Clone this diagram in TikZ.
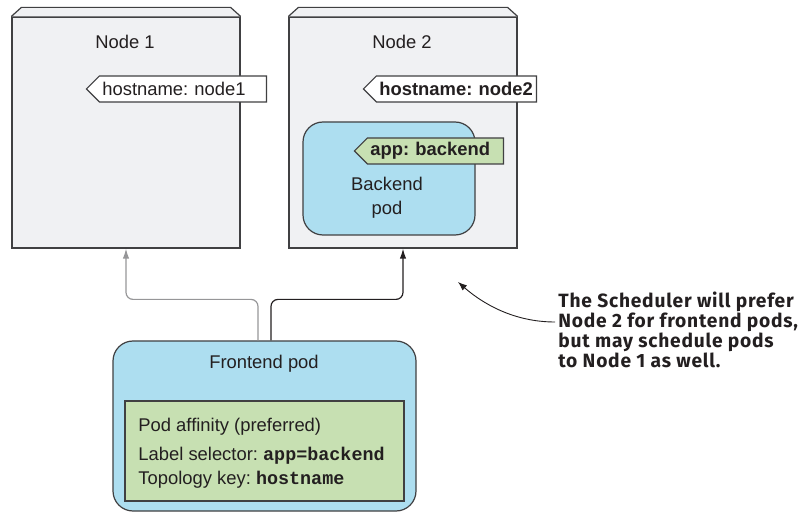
\documentclass[tikz,border=0pt]{standalone}
\usepackage{fontspec}
\setmainfont{Liberation Sans}
\setmonofont{Liberation Mono}
\newfontfamily\notefont[LetterSpace=4]{Fira Sans}
\usepackage{tikz}
\usetikzlibrary{arrows.meta,calc,shapes.symbols}
\definecolor{NodeGray}{RGB}{240,241,243}
\definecolor{PodBlue}{RGB}{173,222,240}
\definecolor{TagGreen}{RGB}{199,224,178}
\definecolor{EdgeGray}{RGB}{64,64,66}
\definecolor{LinkGray}{RGB}{150,150,152}
\definecolor{Ink}{RGB}{35,31,32}
\newcommand\diagfont{\fontsize{9.2}{12}\selectfont\frenchspacing}
\tikzset{
  machine/.style={draw=EdgeGray,fill=NodeGray,line width=.6pt,
    minimum width=114pt,minimum height=115.5pt,inner sep=0pt},
  labeltag/.style={signal,signal to=west,signal pointer angle=90,
    draw=EdgeGray,line width=.6pt,minimum height=13pt,
    inner xsep=1.5pt,inner ysep=0pt,align=left,anchor=east},
  pod/.style={draw=EdgeGray,fill=PodBlue,line width=.6pt,
    rounded corners=10pt,inner sep=0pt},
}

\begin{document}
\frenchspacing
\begin{tikzpicture}[x=.5pt,y=-.5pt,>={Latex[length=5pt,width=3.2pt]},
    font=\diagfont,text=Ink]
  \useasboundingbox (0,0) rectangle (809,513);
  % worker nodes
  \foreach \n/\cx in {1/126,2/403}{
    \node[machine] (node\n) at (\cx,132.5) {};
    \draw[EdgeGray,fill=NodeGray,line width=.6pt,line join=round]
      (node\n.north west) -- ++(10,-9) -- ($(node\n.north east)+(-10,-9)$)
      -- (node\n.north east);
    \node (title\n) at (\cx-1,42) {Node \n};
  }
  \node[labeltag,fill=white,text width=80.5pt] (host1) at (267,89)
    {hostname: node1};
  \node[labeltag,fill=white,text width=77pt,font=\diagfont\bfseries]
    (host2) at (537,89) {hostname: node2};
  % backend pod on node 2
  \node[pod,minimum width=86pt,minimum height=56.5pt] (bpod) at (389,178.5) {};
  \node[labeltag,fill=TagGreen,text width=65pt,font=\diagfont\bfseries]
    (apptag) at (504,151) {app: backend};
  \node[align=center] (btext) at (387,198) {Backend\\pod};
  % frontend pod
  \node[pod,minimum width=151.5pt,minimum height=85pt] (fpod) at (264.5,426) {};
  \node (ftitle) at (264,364) {Frontend pod};
  \node[draw=EdgeGray,fill=TagGreen,line width=.6pt,minimum width=139.5pt,
    minimum height=50pt] (affinity) at (264.5,451) {};
  \node[anchor=north west,inner sep=0pt,align=left] (afftext) at (138,417.5)
    {Pod affinity (preferred)\\[2.5pt]
     Label selector: \texttt{\bfseries app=backend}\\
     Topology key: \texttt{\bfseries hostname}};
  \draw[->,LinkGray,line width=.6pt,rounded corners=3.5pt]
    ([xshift=-3.25pt]fpod.north) -- ++(0,-41) -| (node1.south);
  \draw[->,Ink,line width=.6pt,rounded corners=3.5pt]
    ([xshift=3.25pt]fpod.north) -- ++(0,-41) -| (node2.south);
  % scheduler note
  \node[font=\notefont\fontsize{9.6}{9.85}\selectfont\bfseries,align=left,
    anchor=north west,inner sep=0pt] (note) at (558,292)
    {The Scheduler will prefer\\Node 2 for frontend pods,\\
     but may schedule pods\\to Node 1 as well.};
  \coordinate (notestart) at ($(note.north west)+(-3,30)$);
  \coordinate (notetip) at (458,282);
  \draw[->,Ink,line width=.45pt,>={Latex[length=4.5pt,width=3.4pt]}]
    (notestart) .. controls ++(-42,0) and (482,303) .. (notetip);
\end{tikzpicture}
\end{document}
